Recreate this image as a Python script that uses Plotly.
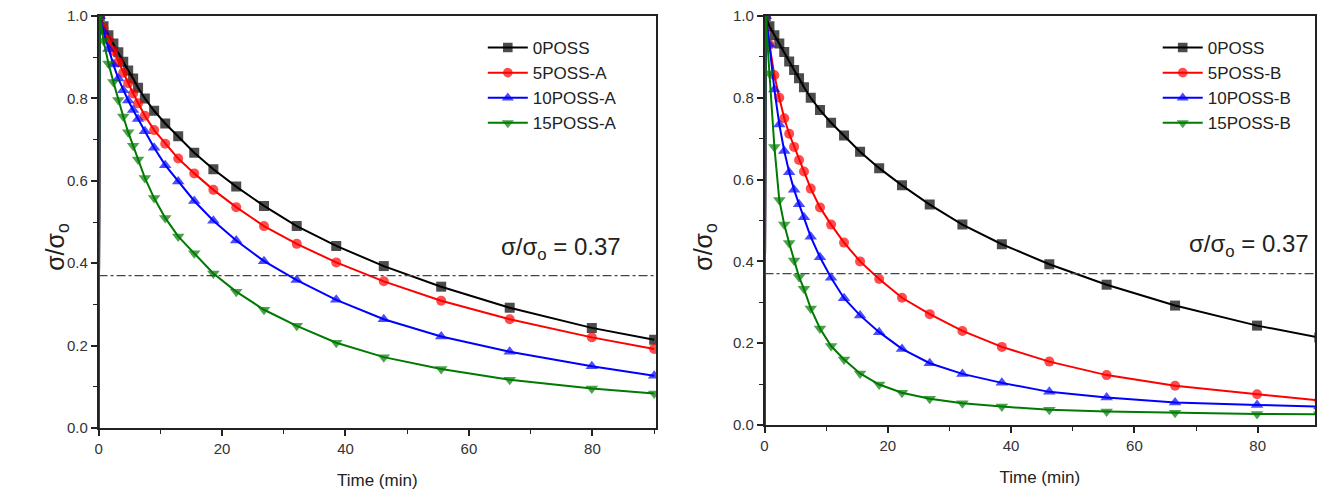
import plotly.graph_objects as go

# ---------------- data ----------------
time_min = [0, 0.2, 0.8, 1.6, 2.4, 3.2, 4.0, 4.8, 5.6, 6.4, 7.5, 9.0, 10.8, 12.9,
            15.5, 18.6, 22.3, 26.8, 32.1, 38.5, 46.2, 55.5, 66.6, 79.9, 90]

poss0 = [0, 1.0, 0.975, 0.953, 0.933, 0.912, 0.889, 0.868, 0.848, 0.826, 0.800, 0.770,
         0.739, 0.708, 0.668, 0.628, 0.586, 0.539, 0.490, 0.442, 0.393, 0.343, 0.292,
         0.243, 0.214]

# panel A
poss5_a = [0, 1.0, 0.970, 0.943, 0.915, 0.888, 0.862, 0.837, 0.812, 0.788, 0.758, 0.723,
           0.690, 0.654, 0.618, 0.578, 0.536, 0.490, 0.447, 0.402, 0.356, 0.309, 0.264,
           0.220, 0.192]
poss10_a = [0, 1.0, 0.962, 0.920, 0.882, 0.848, 0.820, 0.795, 0.772, 0.750, 0.720, 0.680,
            0.638, 0.598, 0.551, 0.503, 0.455, 0.405, 0.359, 0.311, 0.264, 0.222, 0.185,
            0.150, 0.127]
poss15_a = [0, 1.0, 0.940, 0.885, 0.840, 0.796, 0.756, 0.718, 0.685, 0.652, 0.607, 0.558,
            0.510, 0.465, 0.424, 0.375, 0.331, 0.287, 0.248, 0.207, 0.172, 0.143, 0.117,
            0.096, 0.084]

# panel B
poss5_b = [0, 1.0, 0.930, 0.855, 0.800, 0.750, 0.712, 0.680, 0.648, 0.620, 0.578, 0.532,
           0.490, 0.446, 0.400, 0.357, 0.311, 0.271, 0.230, 0.191, 0.155, 0.122, 0.096,
           0.075, 0.060]
poss10_b = [0, 1.0, 0.930, 0.820, 0.735, 0.670, 0.618, 0.575, 0.540, 0.508, 0.460, 0.410,
            0.360, 0.310, 0.268, 0.227, 0.186, 0.151, 0.125, 0.103, 0.081, 0.067, 0.055,
            0.049, 0.045]
poss15_b = [0, 1.0, 0.860, 0.680, 0.550, 0.490, 0.445, 0.402, 0.362, 0.333, 0.285, 0.236,
            0.193, 0.160, 0.126, 0.099, 0.079, 0.064, 0.053, 0.045, 0.037, 0.033, 0.030,
            0.027, 0.026]

names_a = ["0POSS", "5POSS-A", "10POSS-A", "15POSS-A"]
names_b = ["0POSS", "5POSS-B", "10POSS-B", "15POSS-B"]
threshold = 0.37
x_ticks = [0, 20, 40, 60, 80]
y_ticks = [0.0, 0.2, 0.4, 0.6, 0.8, 1.0]

# ---------------- styling ----------------
colors = ["#000000", "#ff0000", "#0000ff", "#007a00"]
symbols = ["square", "circle", "triangle-up", "triangle-down"]
msizes = [10, 10, 11, 11]
FONT = "Liberation Sans, Arial, sans-serif"

W, H = 1317, 492
MT, MB = 16, 64
PH = H - MT - MB


def px_x(p):
    return p / W


def px_y(p):
    return (H - MB - p) / PH


fig = go.Figure()

panels = [
    (names_a, [poss0, poss5_a, poss10_a, poss15_a], "x", "y", "legend"),
    (names_b, [poss0, poss5_b, poss10_b, poss15_b], "x2", "y2", "legend2"),
]
for names, series, xa, ya, lg in panels:
    for i, (nm, vals) in enumerate(zip(names, series)):
        sizes = [0] + [msizes[i]] * (len(vals) - 1)
        fig.add_trace(go.Scatter(
            x=time_min, y=vals, name=nm, mode="lines+markers",
            xaxis=xa, yaxis=ya, legend=lg,
            line=dict(color=colors[i], width=2),
            marker=dict(symbol=symbols[i], size=sizes, color=colors[i],
                        line=dict(width=0)),
        ))

axis_common = dict(
    showline=True, linecolor="#222", linewidth=1.5, mirror=True,
    ticks="outside", ticklen=6, tickwidth=1.5, tickcolor="#222",
    showgrid=False, zeroline=False,
    tickfont=dict(family=FONT, size=15, color="#333"),
)
xminor = dict(dtick=10, ticks="outside", ticklen=4, tickwidth=1.2, tickcolor="#222")
yminor = dict(dtick=0.1, ticks="outside", ticklen=4, tickwidth=1.2, tickcolor="#222")
xtitle_font = dict(size=17, family=FONT, color="#222")

fig.update_layout(
    width=W, height=H,
    margin=dict(l=0, r=0, t=MT, b=MB),
    paper_bgcolor="white", plot_bgcolor="white",
    font=dict(family=FONT, color="#222"),
    xaxis=dict(domain=[px_x(95), px_x(655)], range=[0, 90.3], anchor="y",
               tickvals=x_ticks, minor=xminor,
               title=dict(text="Time (min)", font=xtitle_font, standoff=18),
               **axis_common),
    yaxis=dict(domain=[0, 1], range=[0, 1.0], anchor="x",
               tickvals=y_ticks, tickformat=".1f", minor=yminor, **axis_common),
    xaxis2=dict(domain=[px_x(764), 1.0], range=[0, 89.3], anchor="y2",
                tickvals=x_ticks, minor=xminor,
                title=dict(text="Time (min)", font=xtitle_font, standoff=18),
                **axis_common),
    yaxis2=dict(domain=[px_y(425), 1], range=[0, 1.0], anchor="x2",
                tickvals=y_ticks, tickformat=".1f", minor=yminor, **axis_common),
    legend=dict(x=px_x(481), y=px_y(30), xanchor="left", yanchor="top",
                bgcolor="rgba(0,0,0,0)", font=dict(family=FONT, size=17, color="#222"),
                tracegroupgap=0, itemwidth=40),
    legend2=dict(x=px_x(1159), y=px_y(30), xanchor="left", yanchor="top",
                 bgcolor="rgba(0,0,0,0)", font=dict(family=FONT, size=17, color="#222"),
                 tracegroupgap=0, itemwidth=40),
    showlegend=True,
)

for xa, ya, xend in [("x", "y", 90.3), ("x2", "y2", 89.3)]:
    fig.add_shape(type="line", xref=xa, yref=ya, x0=0, x1=xend, y0=threshold, y1=threshold,
                  line=dict(color="#444", width=1.2, dash="dashdot"))

# y-axis titles and threshold labels
for xp in [35, 704]:
    fig.add_annotation(xref="paper", yref="paper", x=px_x(xp), y=px_y(247),
                       text="σ/σ<sub>o</sub>", textangle=-90, showarrow=False,
                       font=dict(family=FONT, size=25, color="#222"))
fig.add_annotation(xref="paper", yref="paper", x=px_x(622), y=px_y(248), xanchor="right",
                   text=f"σ/σ<sub>o</sub> = {threshold}", showarrow=False,
                   font=dict(family=FONT, size=24, color="#222"))
fig.add_annotation(xref="paper", yref="paper", x=px_x(1313), y=px_y(245), xanchor="right",
                   text=f"σ/σ<sub>o</sub> = {threshold}", showarrow=False,
                   font=dict(family=FONT, size=24, color="#222"))

fig.write_html("out.html", config={"displayModeBar": False},
               post_script="document.body.style.margin='0px';")
